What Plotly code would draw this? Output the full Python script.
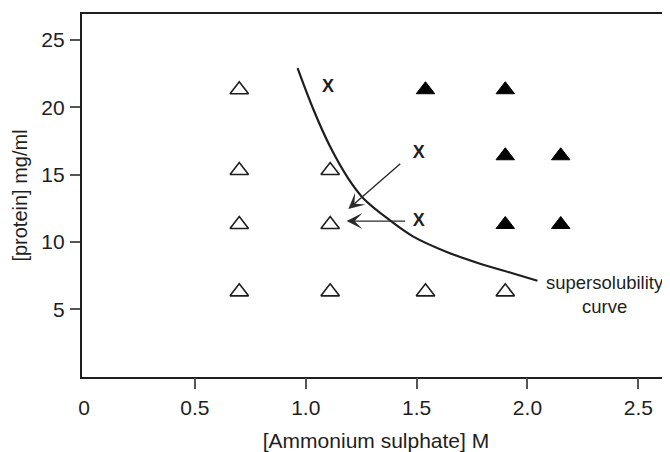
import plotly.graph_objects as go

# ---- data ----
open_x = [0.70, 0.70, 0.70, 0.70, 1.11, 1.11, 1.11, 1.54, 1.90]
open_y = [21.3, 15.3, 11.3, 6.3, 15.3, 11.3, 6.3, 6.3, 6.3]

filled_x = [1.54, 1.90, 1.90, 2.15, 1.90, 2.15]
filled_y = [21.3, 21.3, 16.4, 16.4, 11.3, 11.3]

cross_x = [1.10, 1.51, 1.51]
cross_y = [21.5, 16.6, 11.5]

curve_x = [0.963, 1.034, 1.109, 1.192, 1.259, 1.380, 1.485, 1.636, 1.786, 1.936, 2.045]
curve_y = [22.9, 19.85, 17.1, 14.7, 13.25, 11.6, 10.4, 9.26, 8.39, 7.66, 7.12]

# arrows: (tail x, tail y) -> (head x, head y)
arrow_tail_x = [1.433, 1.455]
arrow_tail_y = [15.9, 11.55]
arrow_head_x = [1.192, 1.184]
arrow_head_y = [12.45, 11.55]

x_tick_vals = [0, 0.5, 1.0, 1.5, 2.0, 2.5]
x_tick_text = ["0", "0.5", "1.0", "1.5", "2.0", "2.5"]
x_tick_marks = [0.5, 1.0, 1.5, 2.0, 2.5]
y_tick_vals = [5, 10, 15, 20, 25]

curve_label = "supersolubility<br>curve"
curve_label_x = 2.352
curve_label_y = 6.07

FONT = "Liberation Sans, Arial, sans-serif"
INK = "#1e1e1e"

fig = go.Figure()

fig.add_trace(go.Scatter(
    x=curve_x, y=curve_y, mode="lines", xaxis="x2",
    line=dict(color=INK, width=2.2, shape="spline", smoothing=1.0),
    hoverinfo="skip", showlegend=False,
))

fig.add_trace(go.Scatter(
    x=open_x, y=open_y, mode="markers",
    marker=dict(symbol="triangle-up", size=16, color="white",
                line=dict(color=INK, width=1.6)),
    showlegend=False,
))

fig.add_trace(go.Scatter(
    x=filled_x, y=filled_y, mode="markers",
    marker=dict(symbol="triangle-up", size=16, color="#000000",
                line=dict(color="#000000", width=1)),
    showlegend=False,
))

fig.add_trace(go.Scatter(
    x=cross_x, y=cross_y, mode="text",
    text=["<b>X</b>"] * len(cross_x), textposition="middle center",
    textfont=dict(family=FONT, size=18, color=INK),
    showlegend=False,
))

annotations = []
for tx, ty, hx, hy in zip(arrow_tail_x, arrow_tail_y, arrow_head_x, arrow_head_y):
    annotations.append(dict(
        x=hx, y=hy, ax=tx, ay=ty, xref="x", yref="y", axref="x", ayref="y",
        showarrow=True, arrowhead=3, arrowsize=1.9, arrowwidth=1.4,
        arrowcolor="#2a2a2a", text="",
    ))

annotations.append(dict(
    x=curve_label_x, y=curve_label_y, xref="x", yref="y",
    text=curve_label, showarrow=False, align="center",
    xanchor="center", yanchor="middle",
    font=dict(family=FONT, size=18.5, color=INK),
))

fig.update_layout(
    width=662, height=444, autosize=False,
    margin=dict(l=74, r=0, t=6, b=73),
    paper_bgcolor="white", plot_bgcolor="white",
    font=dict(family=FONT, size=20, color=INK),
    annotations=annotations,
    xaxis=dict(
        range=[-0.0095, 2.643], showgrid=False, zeroline=False,
        showline=True, linecolor=INK, linewidth=2.2, mirror=True,
        tickmode="array", tickvals=x_tick_vals, ticktext=x_tick_text,
        ticks="", ticklabelstandoff=11,
        tickfont=dict(family=FONT, size=21, color=INK),
        title=dict(text="[Ammonium sulphate] M", standoff=18,
                   font=dict(family=FONT, size=21, color=INK)),
    ),
    xaxis2=dict(
        overlaying="x", matches="x", anchor="y", side="bottom",
        showgrid=False, zeroline=False, showline=False,
        tickmode="array", tickvals=x_tick_marks, showticklabels=False,
        ticks="outside", ticklen=11, tickwidth=1.5, tickcolor="#555555",
    ),
    yaxis=dict(
        range=[-0.02, 26.92], showgrid=False, zeroline=False,
        showline=True, linecolor=INK, linewidth=2.2, mirror=False,
        tickmode="array", tickvals=y_tick_vals,
        ticks="outside", ticklen=10, tickwidth=1.5, tickcolor="#555555",
        ticklabelstandoff=1,
        tickfont=dict(family=FONT, size=21, color=INK),
        title=dict(text="[protein] mg/ml", standoff=8,
                   font=dict(family=FONT, size=20, color=INK)),
    ),
)

fig.write_html("out.html")
